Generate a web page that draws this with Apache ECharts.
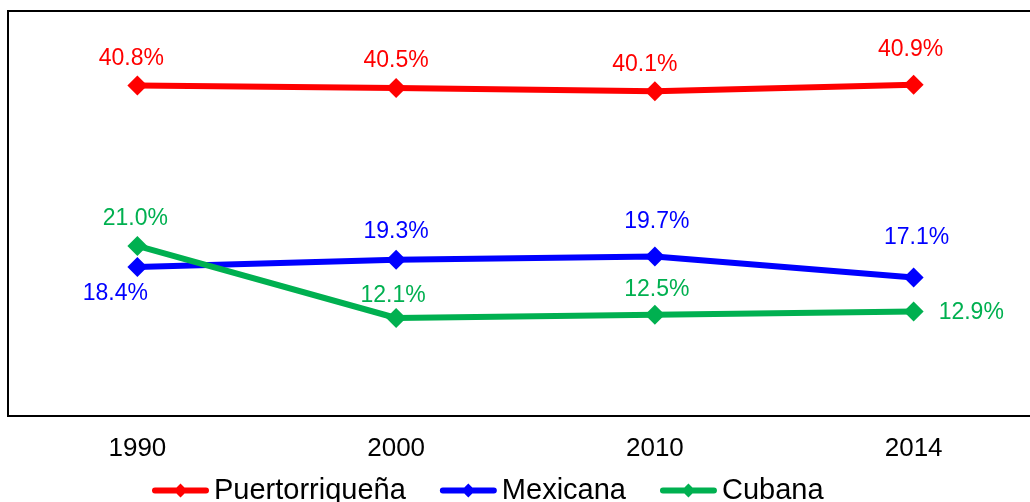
<!DOCTYPE html>
<html>
<head>
<meta charset="utf-8">
<script src="https://cdn.jsdelivr.net/npm/echarts@6/dist/echarts.min.js"></script>
<style>
html,body{margin:0;padding:0;background:#fff;}
#chart{width:1030px;height:502px;}
</style>
</head>
<body>
<div id="chart"></div>
<script>
var categories = ['1990', '2000', '2010', '2014'];
var seriesNames = ['Puertorriqueña', 'Mexicana', 'Cubana'];
var puertorriquena = [40.8, 40.5, 40.1, 40.9];
var mexicana = [18.4, 19.3, 19.7, 17.1];
var cubana = [21.0, 12.1, 12.5, 12.9];

var colors = ['#FF0000', '#0000FF', '#00B050'];
var font = '"Liberation Sans", Arial, sans-serif';

// label placement tweaks (layout only)
var labelTweaks = [
  [{position:'top', offset:[-6,0]}, {position:'top', offset:[0,-1]}, {position:'top', offset:[-10,0]}, {position:'top', offset:[-3,-9]}],
  [{position:'bottom', offset:[-22,0]}, {position:'top', offset:[0,-2]}, {position:'top', offset:[2,-8]}, {position:'top', offset:[3,-13]}],
  [{position:'top', offset:[-2,-1]}, {position:'top', offset:[-3,4]}, {position:'top', offset:[2,1]}, {position:'right', offset:[10,1]}]
];

// legend icon: thick rounded bar with a diamond in the middle
var legendIcon = 'path://M3,4L54,4A3,3,0,0,1,54,10L3,10A3,3,0,0,1,3,4Z M28.5,0L35.5,7L28.5,14L21.5,7Z';

function build(values, idx) {
  return values.map(function (v, i) {
    return { value: v, label: labelTweaks[idx][i] };
  });
}

var allValues = [puertorriquena, mexicana, cubana];
var series = allValues.map(function (vals, idx) {
  return {
    name: seriesNames[idx],
    type: 'line',
    data: build(vals, idx),
    symbol: 'diamond',
    symbolSize: 20,
    color: colors[idx],
    lineStyle: { width: 6, color: colors[idx] },
    itemStyle: { color: colors[idx] },
    label: {
      show: true,
      color: colors[idx],
      fontSize: 23,
      fontFamily: font,
      distance: 5,
      formatter: function (p) { return p.value.toFixed(1) + '%'; }
    },
    animation: false
  };
});

var chart = echarts.init(document.getElementById('chart'));
chart.setOption({
  animation: false,
  backgroundColor: '#fff',
  grid: {
    show: true,
    left: 8, top: 11, width: 1035, height: 405,
    borderColor: '#000', borderWidth: 2,
    containLabel: false,
    outerBoundsMode: 'none'
  },
  legend: {
    data: seriesNames.map(function (n) { return { name: n, icon: legendIcon }; }),
    left: 147, top: 471,
    itemWidth: 57, itemHeight: 14,
    itemGap: 34,
    textStyle: { fontSize: 29, fontFamily: font, color: '#000' }
  },
  xAxis: {
    type: 'category',
    data: categories,
    boundaryGap: true,
    axisLine: { show: false },
    axisTick: { show: false },
    axisLabel: { fontSize: 26, fontFamily: font, color: '#000', margin: 20 }
  },
  yAxis: {
    type: 'value',
    min: 0, max: 50, interval: 10,
    show: false,
    splitLine: { show: false }
  },
  series: series
});
</script>
</body>
</html>
